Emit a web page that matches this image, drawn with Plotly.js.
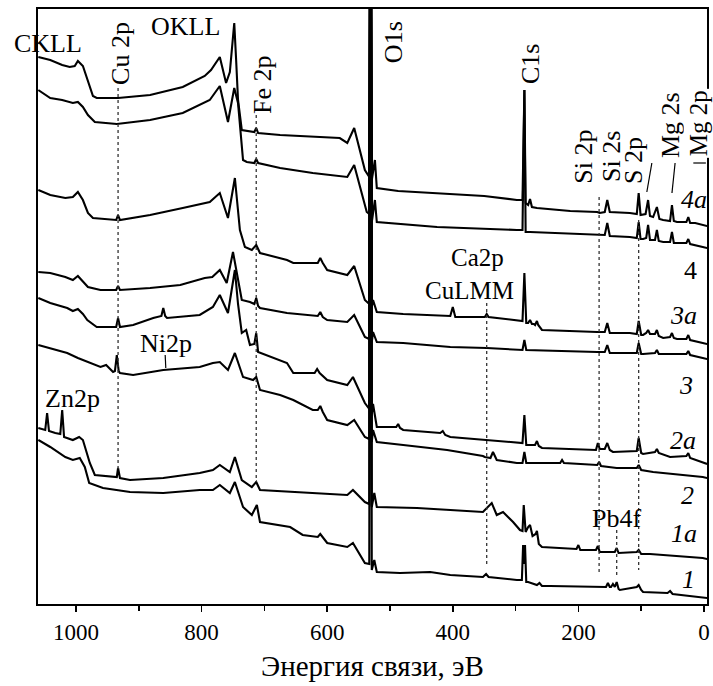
<!DOCTYPE html>
<html>
<head>
<meta charset="utf-8">
<script src="https://cdn.plot.ly/plotly-3.0.1.min.js"></script>
<style>html,body{margin:0;padding:0;background:#fff;}#chart{width:713px;height:686px;}</style>
</head>
<body>
<div id="chart"></div>
<script>
// Binding energy (eV) and intensity (arb. units, offset stack) for each spectrum
const E_4a = [1060,1041,1022,1010,1002,997,989,981,973,967,933,882,830,795,785,771,761,755,748,745,742,736,728,716,713,710,675,623,580,568,557,540,533,531,529,524,521,487,457,425,350,298,289,286,284,280,277,274,266,213,170,166,158,154,150,118,107,104,101,93,89,86,81,75,71,65,54,51,48,43,28,25,22,14,2,-5];
const I_4a = [547,544,539,537,538,543,538,524,508,506,506,509,517,528,534,547,521,532,581,544,504,474,473,472,476,471,469,467,466,461,476,434,427,900,424,444,416,413,412,411,408,404,404,514,401,399,405,397,396,393,392,391,392,404,392,391,390,411,389,390,404,388,387,397,385,384,383,399,383,382,382,387,381,381,379,378];

const E_4 = [1060,1041,1022,1005,997,989,981,970,935,882,830,787,771,758,748,742,734,728,716,713,710,675,623,568,557,537,533,531,529,524,521,425,298,289,286,284,277,170,158,154,150,118,107,104,101,97,92,89,86,81,78,75,72,65,54,51,48,43,28,25,22,2,-5];
const I_4 = [514,506,504,501,502,497,489,482,480,484,491,504,518,482,516,501,444,442,441,445,441,436,431,427,439,392,390,900,382,404,382,377,374,374,514,372,372,369,369,381,368,367,366,382,365,365,366,379,364,364,364,374,363,362,362,372,361,361,361,365,360,357,356];

const E_3a = [1060,1041,1017,1005,997,989,981,973,936,933,930,882,830,787,771,758,747,739,731,720,713,707,664,654,615,611,607,600,568,557,540,533,531,529,527,521,479,404,400,396,349,346,343,298,289,286,283,280,277,274,271,269,266,264,261,258,170,158,154,150,139,118,107,104,100,97,92,89,86,78,75,72,65,54,51,48,43,28,25,22,2,-5];
const I_3a = [414,409,406,407,412,404,391,386,384,389,384,389,396,402,411,386,426,374,357,354,359,351,344,341,341,346,341,334,329,338,304,300,900,297,304,292,290,288,297,287,287,290,287,284,283,331,281,281,284,280,280,279,283,279,276,274,272,272,281,271,271,271,270,283,269,269,271,274,270,270,274,268,266,267,271,266,265,265,269,264,261,260];

const E_3 = [1060,1041,1017,1005,997,989,981,961,936,933,930,882,834,795,783,771,760,750,742,736,723,716,713,710,707,664,615,611,607,600,568,557,540,533,531,529,527,521,479,404,346,298,289,286,283,170,158,154,150,139,107,104,100,97,78,75,72,62,28,25,22,2,-5];
const I_3 = [332,331,327,324,328,322,317,314,314,318,314,316,319,326,327,334,321,352,324,304,302,300,306,298,296,291,288,292,287,284,282,289,267,265,900,262,272,262,261,257,256,254,254,264,254,252,252,259,251,251,251,261,250,250,251,254,250,250,250,253,249,246,245];

const E_2a = [1060,1041,1014,1005,997,989,982,967,936,933,930,909,877,864,861,858,855,803,782,771,758,747,742,736,729,723,716,713,710,664,654,620,616,612,600,568,559,540,533,531,529,527,521,490,487,484,479,420,416,412,404,349,298,289,286,283,280,269,266,263,258,172,169,166,158,154,150,145,107,104,100,97,78,75,72,54,28,25,22,2,-5];
const I_2a = [306,301,296,293,295,290,284,277,277,286,277,279,286,288,296,288,286,289,297,309,291,334,300,271,274,259,260,271,252,241,231,231,235,231,224,219,227,201,195,900,190,200,177,177,180,176,174,171,173,169,167,164,161,161,189,159,159,159,163,158,156,154,161,155,155,161,154,152,153,166,151,150,152,155,151,147,148,151,146,141,140];

const E_2 = [1060,1041,1014,997,982,961,952,941,938,935,932,930,909,861,803,782,771,758,747,734,718,713,707,675,654,623,615,611,607,600,568,557,540,533,531,529,527,521,479,409,352,349,340,336,330,298,289,286,283,280,229,226,223,170,167,164,139,107,104,100,81,2,-5];
const I_2 = [259,256,251,246,242,237,239,232,233,249,233,231,229,234,237,241,242,234,251,227,224,227,214,209,204,194,194,198,192,184,179,184,167,165,900,162,174,162,159,154,148,147,146,152,144,141,141,152,141,141,141,144,141,139,142,138,136,136,139,134,132,127,126];

const E_1a = [1060,1049,1046,1043,1033,1025,1022,1019,1005,995,989,978,970,938,935,933,930,914,861,803,782,771,755,747,736,720,713,707,623,568,559,540,533,531,529,525,521,457,404,352,338,330,320,304,293,289,287,284,280,277,273,268,266,263,258,203,200,197,172,169,166,142,139,136,107,104,100,86,2,-5];
const I_1a = [176,174,191,173,171,170,194,167,164,167,164,141,129,127,127,136,126,124,126,131,134,139,132,147,124,117,122,114,111,109,114,102,100,900,97,111,97,96,94,92,101,89,92,82,74,73,99,72,77,79,68,70,73,60,57,55,59,54,54,58,52,52,56,51,52,54,50,50,46,45];

const E_1 = [1060,1041,1017,1005,994,986,979,957,914,861,803,782,771,755,747,734,720,712,707,675,659,639,615,611,607,600,568,559,540,533,531,529,525,521,484,436,404,352,347,343,298,290,288,286,285,283,280,266,262,258,245,166,156,153,150,148,145,142,139,136,134,107,104,100,97,58,54,50,2,-5];
const I_1 = [164,157,147,144,146,137,121,116,112,111,114,114,119,111,122,97,89,99,82,79,77,69,67,70,67,61,57,61,41,40,900,34,44,32,31,32,29,27,30,27,24,24,59,40,59,22,22,19,21,18,18,17,17,21,17,17,20,17,22,15,14,17,19,14,12,11,13,10,6,6];

const seriesNames = ['4a','4','3a','3','2a','2','1a','1'];
const seriesE = [E_4a,E_4,E_3a,E_3,E_2a,E_2,E_1a,E_1];
const seriesI = [I_4a,I_4,I_3a,I_3,I_2a,I_2,I_1a,I_1];

// Curve labels
const curveLabelE = [16,22,33,29,33,27,32,25];
const curveLabelI = [405,334,289,219,164,109,71,25];
const curveLabelItalic = [true,false,true,true,true,true,true,true];

// Peak labels
const peakLabels = ['CKLL','OKLL','Cu 2p','Fe 2p','O1s','C1s','Si 2p','Si 2s','S 2p','Mg 2s','Mg 2p','Ca2p','CuLMM','Ni2p','Zn2p','Pb4f'];
const peakLabelE = [1045,825,930,704,495,277,193,148,113,54,9,360,374,857,1005,140];
const peakLabelI = [561,578,551,520,562,540,447,447,443,479,481,347,314,261,206,86];
const peakLabelAngle = [0,0,-90,-90,-90,-90,-90,-90,-90,-90,-90,0,0,0,0,0];
const peakLabelSize = [26,26,26,26,26,26,26,26,26,26,25,25,25,26,26,26];

// Dotted marker lines: energy, from, to
const dotE = [933,713,346,167,104,139];
const dotFrom = [516,489,301,407,384,74];
const dotTo = [134,122,39,29,34,28];

// Leader lines
const leadE0 = [83,46,17,858];
const leadI0 = [441,441,441,249];
const leadE1 = [91,51,-3,857];
const leadI1 = [412,411,441,236];

const xTicks = [1000,800,600,400,200,0];

const FONT = 'Liberation Serif, Times New Roman, serif';

const traces = seriesNames.map((n,i)=>({
  x: seriesE[i], y: seriesI[i], name: n, type:'scatter', mode:'lines',
  line:{color:'#000', width:2.1}, hoverinfo:'skip', showlegend:false
}));

const annotations = [];
peakLabels.forEach((t,i)=>{
  const a = {x:peakLabelE[i], y:peakLabelI[i], xref:'x', yref:'y', text:t, showarrow:false,
    textangle:peakLabelAngle[i], font:{family:FONT, size:peakLabelSize[i], color:'#000'}};
  if (t==='Mg 2p') { a.bgcolor = '#fff'; }
  annotations.push(a);
});
seriesNames.forEach((t,i)=>{
  annotations.push({x:curveLabelE[i], y:curveLabelI[i], xref:'x', yref:'y',
    text: curveLabelItalic[i] ? '<i>'+t+'</i>' : t, showarrow:false,
    font:{family:FONT, size:26, color:'#000'}});
});

const shapes = [];
dotE.forEach((e,i)=>{
  shapes.push({type:'line', xref:'x', yref:'y', x0:e, x1:e, y0:dotFrom[i], y1:dotTo[i],
    line:{color:'#333', width:1.3, dash:'dot'}});
});
leadE0.forEach((e,i)=>{
  shapes.push({type:'line', xref:'x', yref:'y', x0:e, x1:leadE1[i], y0:leadI0[i], y1:leadI1[i],
    line:{color:'#000', width:1.2}});
});

const layout = {
  width:713, height:686,
  margin:{l:38, r:6, t:9, b:82},
  paper_bgcolor:'#fff', plot_bgcolor:'#fff',
  font:{family:FONT, color:'#000', size:22},
  showlegend:false,
  xaxis:{
    range:[1060.5,-4.8], tickvals:xTicks, ticktext:xTicks.map(String),
    ticks:'outside', ticklen:6, tickwidth:1.5, tickcolor:'#000',
    minor:{tickvals:[900,700,500,300,100], ticks:'outside', ticklen:5, tickwidth:1.5, tickcolor:'#000'},
    showline:true, linewidth:2, linecolor:'#000', mirror:true,
    showgrid:false, zeroline:false,
    tickfont:{family:FONT, size:23, color:'#000'},
    title:{text:'Энергия связи, эВ', font:{family:FONT, size:29, color:'#000'}, standoff:12}
  },
  yaxis:{
    range:[0,595], showticklabels:false, ticks:'',
    showline:true, linewidth:2, linecolor:'#000', mirror:true,
    showgrid:false, zeroline:false
  },
  annotations, shapes
};

Plotly.newPlot('chart', traces, layout, {staticPlot:true, displayModeBar:false});
</script>
</body>
</html>
